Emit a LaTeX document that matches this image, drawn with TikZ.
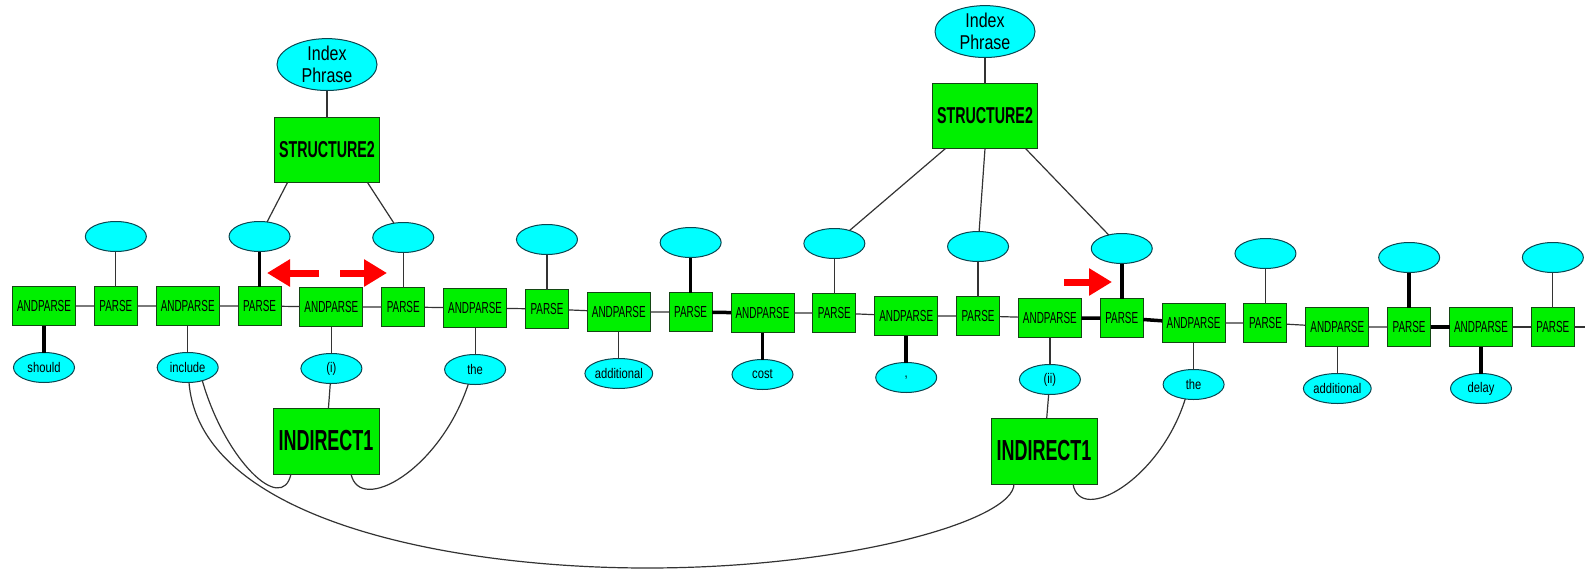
\documentclass[tikz,border=0pt]{standalone}
\usepackage{fontspec}
\setmainfont{Liberation Sans}
\newfontfamily\boxfont[FakeStretch=0.62]{Liberation Sans}
\newfontfamily\wordfont[FakeStretch=0.8]{Liberation Sans}
\usepackage{tikz}
\usetikzlibrary{positioning,shapes.geometric,arrows.meta}
\definecolor{boxgreen}{RGB}{0,240,0}
\definecolor{boxedge}{RGB}{20,70,20}
\definecolor{cellcyan}{RGB}{0,255,255}
\definecolor{celledge}{RGB}{10,70,80}
\tikzset{
	gbox/.style={draw=boxedge, fill=boxgreen, line width=1pt, inner sep=0pt, outer sep=0pt, minimum height=39pt},
	andbox/.style={gbox, minimum width=63pt, font={\boxfont\fontsize{16}{18}\selectfont}},
	parsebox/.style={gbox, minimum width=43pt, font={\boxfont\fontsize{16}{18}\selectfont}},
	structbox/.style={gbox, minimum width=105pt, minimum height=65pt, font={\boxfont\bfseries\fontsize{23}{26}\selectfont}},
	indbox/.style={gbox, minimum width=106pt, minimum height=66pt, font={\boxfont\bfseries\fontsize{29}{32}\selectfont}},
	cell/.style={ellipse, draw=celledge, fill=cellcyan, line width=1pt, inner sep=0pt, outer sep=0pt, minimum width=61pt, minimum height=30pt, font={\wordfont\fontsize{14}{16}\selectfont}},
	phrase/.style={cell, minimum width=100pt, minimum height=51pt, align=center, font={\wordfont\fontsize{20}{22}\selectfont}},
	lnk/.style={draw=black!80, line width=1.2pt},
	heavy/.style={draw=black, line width=3.5pt},
	marker/.style={red, line width=7pt, -{Triangle[length=23pt,width=26pt]}}
}
\begin{document}
\begin{tikzpicture}[x=1pt, y=-1pt]
		\useasboundingbox (0,0) rectangle (1585,570);
		% the chain
		\node (A1)	[andbox] at (44,306)							{ANDPARSE};
		\node (P1)	[parsebox, right=18.85pt of A1]					{PARSE};
		\node (A2)	[andbox, right=18.85pt of P1]					{ANDPARSE};
		\node (P2)	[parsebox, right=18.85pt of A2]					{PARSE};
		\node (A3)	[andbox, right=18.85pt of P2, yshift=-1pt]		{ANDPARSE};
		\node (P3)	[parsebox, right=18.85pt of A3]					{PARSE};
		\node (A4)	[andbox, right=18.85pt of P3, yshift=-1pt]		{ANDPARSE};
		\node (P4)	[parsebox, right=18.85pt of A4, yshift=-1pt]	{PARSE};
		\node (A5)	[andbox, right=18.85pt of P4, yshift=-3pt]		{ANDPARSE};
		\node (P5)	[parsebox, right=18.85pt of A5]					{PARSE};
		\node (A6)	[andbox, right=18.85pt of P5, yshift=-1pt]		{ANDPARSE};
		\node (P6)	[parsebox, right=18.85pt of A6]					{PARSE};
		\node (A7)	[andbox, right=18.85pt of P6, yshift=-3pt]		{ANDPARSE};
		\node (P7)	[parsebox, right=18.85pt of A7]					{PARSE};
		\node (A8)	[andbox, right=18.85pt of P7, yshift=-2pt]		{ANDPARSE};
		\node (P8)	[parsebox, right=18.85pt of A8]					{PARSE};
		\node (A9)	[andbox, right=18.85pt of P8, yshift=-5pt]		{ANDPARSE};
		\node (P9)	[parsebox, right=18.85pt of A9]					{PARSE};
		\node (A10)	[andbox, right=18.85pt of P9, yshift=-4pt]		{ANDPARSE};
		\node (P10)	[parsebox, right=18.85pt of A10]				{PARSE};
		\node (A11)	[andbox, right=18.85pt of P10]					{ANDPARSE};
		\node (P11)	[parsebox, right=18.85pt of A11]				{PARSE};
		\coordinate (edge) at (1585,327);
		% slots above
		\node (T1)	[cell, above=35pt of P1]	{};
		\node (T2)	[cell, above=35pt of P2]	{};
		\node (T3)	[cell, above=35pt of P3]	{};
		\node (T4)	[cell, above=35pt of P4]	{};
		\node (T5)	[cell, above=35pt of P5]	{};
		\node (T6)	[cell, above=35pt of P6]	{};
		\node (T7)	[cell, above=35pt of P7]	{};
		\node (T8)	[cell, above=35pt of P8]	{};
		\node (T9)	[cell, above=35pt of P9]	{};
		\node (T10)	[cell, above=35pt of P10]	{};
		\node (T11)	[cell, above=35pt of P11]	{};
		% words below
		\node (w1)	[cell, below=27pt of A1]	{should};
		\node (w2)	[cell, below=27pt of A2]	{include};
		\node (w3)	[cell, below=27pt of A3]	{(i)};
		\node (w4)	[cell, below=27pt of A4]	{the};
		\node (w5)	[cell, below=27pt of A5]	{additional};
		\node (w6)	[cell, below=27pt of A6]	{cost};
		\node (w7)	[cell, below=27pt of A7]	{,};
		\node (w8)	[cell, below=27pt of A8]	{(ii)};
		\node (w9)	[cell, below=27pt of A9]	{the};
		\node (w10)	[cell, below=27pt of A10]	{additional};
		\node (w11)	[cell, below=27pt of A11]	{delay};
		% structures
		\node (S1)	[structbox] at (327,150)		{STRUCTURE2};
		\node (IP1)	[phrase, above=27pt of S1]		{Index\\Phrase};
		\node (S2)	[structbox] at (985,116)		{STRUCTURE2};
		\node (IP2)	[phrase, above=26pt of S2]		{Index\\Phrase};
		\node (I1)	[indbox] at (326,441)			{INDIRECT1};
		\node (I2)	[indbox] at (1044,451)			{INDIRECT1};
		%
		\draw[lnk]		(A1) -- (P1) -- (A2) -- (P2) -- (A3) -- (P3) -- (A4) -- (P4) -- (A5) -- (P5);
		\draw[heavy]	(P5) -- (A6);
		\draw[lnk]		(A6) -- (P6) -- (A7) -- (P7) -- (A8);
		\draw[heavy]	(A8) -- (P8) -- (A9);
		\draw[lnk]		(A9) -- (P9) -- (A10) -- (P10);
		\draw[heavy]	(P10) -- (A11);
		\draw[lnk]		(A11) -- (P11) -- (edge);
		%
		\draw[lnk]		(P1) -- (T1);	\draw[heavy]	(P2) -- (T2);	\draw[lnk]		(P3) -- (T3);
		\draw[lnk]		(P4) -- (T4);	\draw[heavy]	(P5) -- (T5);	\draw[lnk]		(P6) -- (T6);
		\draw[lnk]		(P7) -- (T7);	\draw[heavy]	(P8) -- (T8);	\draw[lnk]		(P9) -- (T9);
		\draw[heavy]	(P10) -- (T10);	\draw[lnk]		(P11) -- (T11);
		%
		\draw[heavy]	(A1) -- (w1);	\draw[lnk]		(A2) -- (w2);	\draw[lnk]		(A3) -- (w3);
		\draw[lnk]		(A4) -- (w4);	\draw[lnk]		(A5) -- (w5);	\draw[heavy]	(A6) -- (w6);
		\draw[heavy]	(A7) -- (w7);	\draw[lnk]		(A8) -- (w8);	\draw[lnk]		(A9) -- (w9);
		\draw[lnk]		(A10) -- (w10);	\draw[heavy]	(A11) -- (w11);
		%
		\draw[lnk]		(IP1) -- (S1);
		\draw[lnk]		([xshift=13pt]S1.south west) -- (T2);
		\draw[lnk]		([xshift=-12pt]S1.south east) -- (T3);
		\draw[lnk]		(IP2) -- (S2);
		\draw[lnk]		([xshift=13pt]S2.south west) -- (T6);
		\draw[lnk]		(S2.south) -- (T7);
		\draw[lnk]		([xshift=-12pt]S2.south east) -- (T8);
		\draw[lnk]		(w3) -- (I1);
		\draw[lnk]		(w8) -- (I2);
		% indirect links
		\draw[lnk]		(w2.318) .. controls (225,460) and (282,515) .. ([xshift=-35pt]I1.south);
		\draw[lnk]		(w4.245) .. controls (440,470) and (360,515) .. ([xshift=25pt]I1.south);
		\draw[lnk]		(w2.275) .. controls (200,520) and (450,568) .. (647,568)
						.. controls (850,568) and (1014,520) .. ([xshift=-30pt]I2.south);
		\draw[lnk]		(w9.240) .. controls (1160,480) and (1080,525) .. ([xshift=29pt]I2.south);
		% red markers
		\coordinate (m1) at (319,273);	\coordinate (m2) at (267,273);
		\coordinate (m3) at (340,273);	\coordinate (m4) at (387,273);
		\coordinate (m5) at (1064,282);	\coordinate (m6) at (1112,282);
		\draw[marker]	(m1) -- (m2);
		\draw[marker]	(m3) -- (m4);
		\draw[marker]	(m5) -- (m6);
\end{tikzpicture}
\end{document}
